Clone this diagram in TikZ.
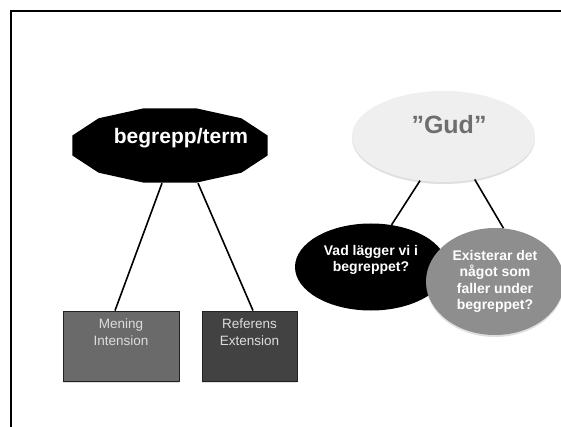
\documentclass[tikz,border=0pt]{standalone}
\usepackage{fontspec}
\setmainfont{Liberation Sans}
\usetikzlibrary{shapes.geometric,shadows}
\definecolor{gudfill}{HTML}{EFEFEF}
\definecolor{gudtext}{HTML}{6E6E6E}
\definecolor{exfill}{HTML}{8E8E8E}
\definecolor{minfill}{HTML}{6A6A6A}
\definecolor{reffill}{HTML}{424242}
\definecolor{boxline}{HTML}{222222}
\definecolor{boxtext}{HTML}{DDDDDD}
\tikzset{
  conn/.style={draw=black, line width=1.6pt},
  frame/.style={draw=black, line width=2pt},
  shad/.style={drop shadow={shadow xshift=0pt, shadow yshift=-2pt, opacity=0.25}},
  boxnode/.style={rectangle, draw=boxline, line width=0.8pt, inner sep=0pt, shad},
  boxlabel/.style={text=boxtext, font=\fontsize{13.5}{17}\selectfont, align=center},
  ell/.style={ellipse, inner sep=0pt},
  bigbold/.style={font=\fontsize{21}{25}\selectfont\bfseries},
  smallbold/.style={font=\fontsize{14}{16.5}\selectfont\bfseries, align=center},
}
\begin{document}
\begin{tikzpicture}[x=1pt,y=-1pt]
\useasboundingbox (0,0) rectangle (561,427);
\fill[white] (0,0) rectangle (561,427);
% slide frame
\draw[frame] (10.5,427) -- (10.5,11.5) -- (561,11.5);

% 12-gon "begrepp/term"
\fill[black] (196.1,108.3) -- (143.9,108.3) -- (98.6,118.3) -- (72.4,135.5) -- (72.4,155.5) -- (98.6,172.7) -- (143.9,182.7) -- (196.1,182.7) -- (241.4,172.7) -- (267.6,155.5) -- (267.6,135.5) -- (241.4,118.3) -- cycle;
\node[inner sep=0pt, minimum width=196pt, minimum height=75pt,
      label={[bigbold, text=white, xshift=11pt, yshift=7.5pt]center:begrepp/term}] (bt) at (170,145.5) {};

% boxes
\node[boxnode, fill=minfill, minimum width=116pt, minimum height=70pt,
      label={[boxlabel, anchor=north, yshift=-4.5pt]north:Mening\\Intension}] (mi) at (121,346) {};
\node[boxnode, fill=reffill, minimum width=95pt, minimum height=70pt,
      label={[boxlabel, anchor=north, yshift=-4.5pt]north:Referens\\Extension}] (re) at (249.5,346) {};

% "Gud" ellipse
\node[ell, fill=gudfill, shad, minimum width=183pt, minimum height=91pt,
      label={[font=\fontsize{25}{30}\selectfont\bfseries, text=gudtext, xshift=5.5pt, yshift=11.5pt]center:”Gud”}] (gud) at (443.5,136.5) {};

% question ellipses
\node[ell, fill=black, minimum width=152pt, minimum height=87pt,
      label={[smallbold, text=white, yshift=7pt]center:Vad lägger vi i\\begreppet?}] (vad) at (371,267) {};
\node[ell, fill=exfill, shad, minimum width=138pt, minimum height=107pt,
      smallbold, text=white] (ex) at (495,281.5) {Existerar det\\något som\\faller under\\begreppet?};

% connectors
\draw[conn] ([xshift=-8pt]bt.south) -- ([xshift=-6pt]mi.north);
\draw[conn] ([xshift=28pt]bt.south) -- ([xshift=3.5pt]re.north);
\draw[conn] (gud.242) -- (vad.64);
\draw[conn] (gud.306) -- (ex.81);
\end{tikzpicture}
\end{document}
